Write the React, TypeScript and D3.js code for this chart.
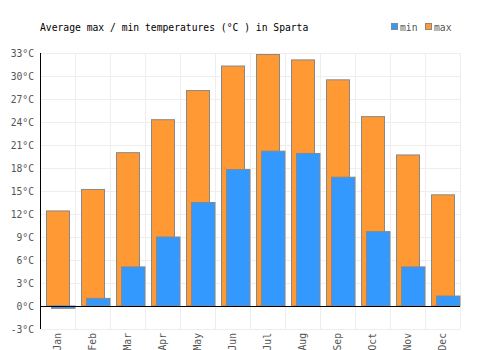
import * as d3 from "d3";
import { useEffect, useRef } from "react";

const months = ["Jan", "Feb", "Mar", "Apr", "May", "Jun", "Jul", "Aug", "Sep", "Oct", "Nov", "Dec"];
const maxTemps = [12.4, 15.2, 20.0, 24.3, 28.1, 31.3, 32.8, 32.1, 29.5, 24.7, 19.7, 14.5];
const minTemps = [-0.3, 1.0, 5.1, 9.0, 13.5, 17.8, 20.2, 19.9, 16.8, 9.7, 5.1, 1.3];
const yTicks = [-3, 0, 3, 6, 9, 12, 15, 18, 21, 24, 27, 30, 33];

export default function App() {
  const ref = useRef<SVGSVGElement>(null);

  useEffect(() => {
    if (!ref.current) return;
    const svg = d3.select(ref.current);
    svg.selectAll("*").remove();

    const font = "'DejaVu Sans Mono', monospace";
    const fs = 9.7;
    const left = 40, right = 460, top = 53, bottom = 329;

    const x = d3.scaleBand().domain(months).range([left, right]);
    const y = d3.scaleLinear().domain([-3, 33]).range([bottom, top]);

    // grid
    svg.append("g")
      .selectAll("line")
      .data(yTicks)
      .join("line")
      .attr("x1", left).attr("x2", right)
      .attr("y1", d => Math.round(y(d)) + 0.5).attr("y2", d => Math.round(y(d)) + 0.5)
      .attr("stroke", "#eeeeee");

    svg.append("g")
      .selectAll("line")
      .data(months)
      .join("line")
      .attr("x1", d => x(d)! + x.bandwidth() + 0.5)
      .attr("x2", d => x(d)! + x.bandwidth() + 0.5)
      .attr("y1", top).attr("y2", bottom)
      .attr("stroke", "#eeeeee");

    // max bars
    svg.append("g")
      .selectAll("rect")
      .data(months)
      .join("rect")
      .attr("x", d => x(d)! + 6.5)
      .attr("width", 23)
      .attr("y", (_, i) => y(Math.max(0, maxTemps[i])))
      .attr("height", (_, i) => Math.abs(y(maxTemps[i]) - y(0)))
      .attr("fill", "#ff9933")
      .attr("stroke", "#888888");

    // min bars
    svg.append("g")
      .selectAll("rect")
      .data(months)
      .join("rect")
      .attr("x", d => x(d)! + 11.5)
      .attr("width", 23.5)
      .attr("y", (_, i) => y(Math.max(0, minTemps[i])))
      .attr("height", (_, i) => Math.abs(y(minTemps[i]) - y(0)))
      .attr("fill", "#3399ff")
      .attr("stroke", "#888888");

    // axes lines
    svg.append("line")
      .attr("x1", left + 0.5).attr("x2", left + 0.5)
      .attr("y1", top).attr("y2", bottom)
      .attr("stroke", "#000");
    svg.append("line")
      .attr("x1", left).attr("x2", right)
      .attr("y1", Math.round(y(0)) + 0.5).attr("y2", Math.round(y(0)) + 0.5)
      .attr("stroke", "#000");

    // y tick labels
    svg.append("g")
      .selectAll("text")
      .data(yTicks)
      .join("text")
      .attr("x", 34)
      .attr("y", d => y(d) + 3.5)
      .attr("text-anchor", "end")
      .attr("font-family", font)
      .attr("font-size", fs)
      .attr("fill", "#555")
      .text(d => `${d}°C`);

    // x labels
    svg.append("g")
      .selectAll("text")
      .data(months)
      .join("text")
      .attr("transform", d => `translate(${x(d)! + x.bandwidth() / 2 + 3.5},333) rotate(-90)`)
      .attr("text-anchor", "end")
      .attr("font-family", font)
      .attr("font-size", fs)
      .attr("fill", "#555")
      .text(d => d);

    // title
    svg.append("text")
      .attr("x", 40).attr("y", 31)
      .attr("font-family", font)
      .attr("font-size", fs)
      .attr("fill", "#000")
      .text("Average max / min temperatures (°C ) in Sparta");

    // legend
    const legend = [
      { label: "min", color: "#3399ff", x: 391 },
      { label: "max", color: "#ff9933", x: 425 },
    ];
    const lg = svg.append("g");
    lg.selectAll("rect")
      .data(legend)
      .join("rect")
      .attr("x", d => d.x + 0.5).attr("y", 23.5)
      .attr("width", 6).attr("height", 6)
      .attr("fill", d => d.color)
      .attr("stroke", "#888");
    lg.selectAll("text")
      .data(legend)
      .join("text")
      .attr("x", d => d.x + 9).attr("y", 31)
      .attr("font-family", font)
      .attr("font-size", fs)
      .attr("fill", "#555")
      .text(d => d.label);
  }, []);

  return (
    <svg ref={ref} width={500} height={350} style={{ position: "absolute", left: 0, top: 0, display: "block" }} />
  );
}
